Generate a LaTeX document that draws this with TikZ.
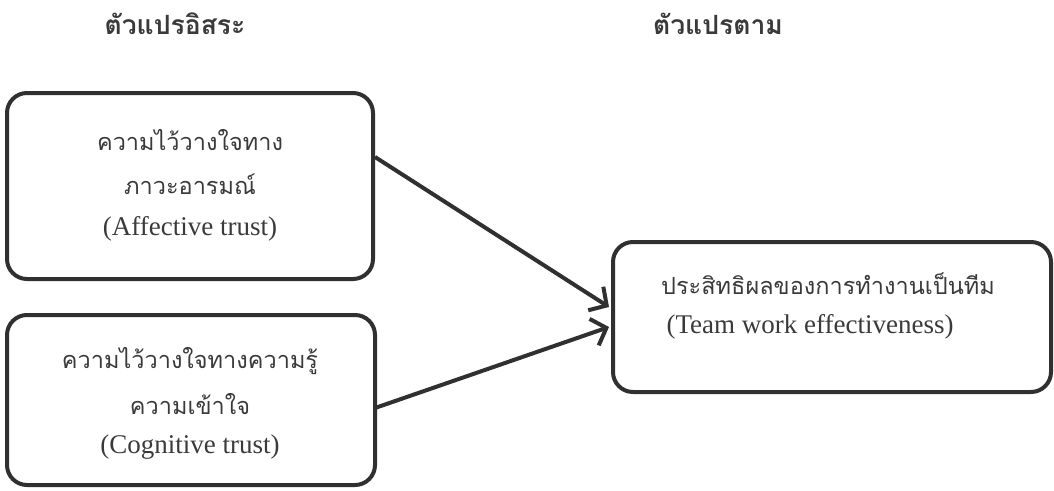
\documentclass[tikz,border=0pt]{standalone}
\usepackage{fontspec}
\setmainfont{Liberation Serif}
\newfontfamily\thaifont[Script=Thai]{Loma}
\usetikzlibrary{arrows.meta}
\definecolor{ink}{HTML}{303030}
\definecolor{txt}{HTML}{3A3A3A}
\tikzset{
  box/.style={draw=ink, line width=4pt, rounded corners=20pt},
  link/.style={draw=ink, line width=4pt, -{Straight Barb[length=13pt,width=28pt,line width=4pt]}},
  th/.style={text=txt, font=\thaifont\fontsize{23.5}{28}\selectfont},
  en/.style={text=txt, font=\fontsize{27}{30}\selectfont},
  title/.style={text=txt, font=\thaifont\bfseries\fontsize{26.5}{30}\selectfont}
}
\begin{document}
\begin{tikzpicture}[x=1pt,y=-1pt]
\useasboundingbox (0,0) rectangle (1054,490);
\node[title] (t1) at (175,24) {ตัวแปรอิสระ};
\node[title] (t2) at (718,24) {ตัวแปรตาม};
\draw[box] (7,93) rectangle (373,279);
\draw[box] (7,315) rectangle (375,485);
\draw[box] (613,242) rectangle (1051,392);
\node[th] (a1) at (190,140) {ความไว้วางใจทาง};
\node[th] (a2) at (190,184) {ภาวะอารมณ์};
\node[en] (a3) at (190,229) {(Affective trust)};
\node[th] (c1) at (190,361) {ความไว้วางใจทางความรู้};
\node[th] (c2) at (190,404) {ความเข้าใจ};
\node[en] (c3) at (190,447) {(Cognitive trust)};
\node[th] (e1) at (828,284) {ประสิทธิผลของการทำงานเป็นทีม};
\node[en] (e2) at (810,327) {(Team work effectiveness)};
\coordinate (s1) at (375,157);
\coordinate (s2) at (375,408);
\coordinate (p1) at (609,307);
\coordinate (p2) at (609,327);
\draw[link] (s1) -- (p1);
\draw[link] (s2) -- (p2);
\end{tikzpicture}
\end{document}
